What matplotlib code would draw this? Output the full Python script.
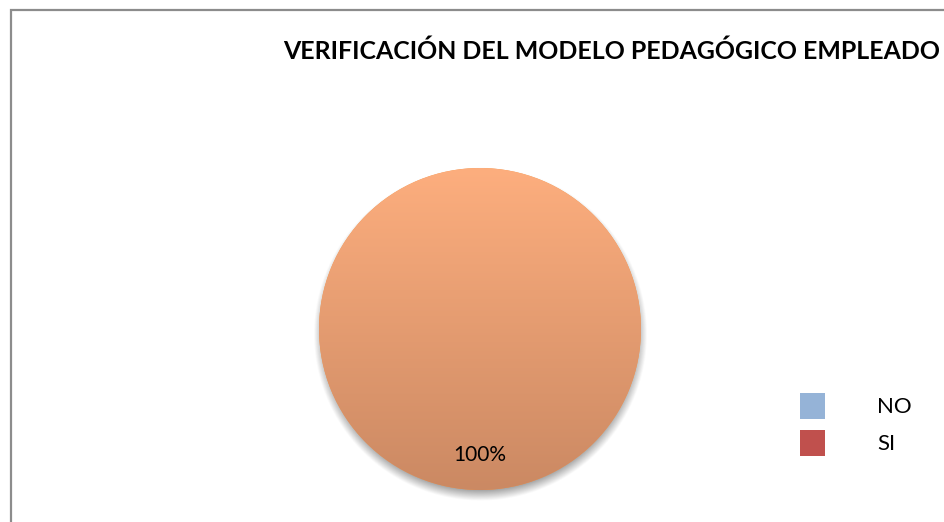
import numpy as np
import matplotlib
matplotlib.use("Agg")
import matplotlib.pyplot as plt
from matplotlib.patches import Patch, Rectangle
from matplotlib.colors import LinearSegmentedColormap

categories = ["NO", "SI"]
values = [0, 100]
legend_colors = ["#95B3D7", "#C0504D"]
title = "VERIFICACIÓN DEL MODELO PEDAGÓGICO EMPLEADO"

plt.rcParams['font.family'] = ['Lato', 'DejaVu Sans']

W, H = 944, 522
fig = plt.figure(figsize=(W / 100, H / 100), dpi=100)
fig.patch.set_facecolor("white")

# border
fig.add_artist(Rectangle((10.5 / W, -0.05), 1.2, (H - 9.5) / H + 0.05,
                         transform=fig.transFigure, fill=False,
                         edgecolor="#8c8c8c", lw=1.6))

# pie axes
cx, cy, r = 480, 329, 161
ax = fig.add_axes([(cx - r * 1.15) / W, (H - cy - r * 1.15) / H,
                   2 * r * 1.15 / W, 2 * r * 1.15 / H])
ax.set_xlim(-1.15, 1.15)
ax.set_ylim(-1.15, 1.15)
ax.set_aspect("equal")
ax.axis("off")

# shadow
n = 500
xs = np.linspace(-1.15, 1.15, n)
X, Y = np.meshgrid(xs, xs)
d = np.sqrt(X ** 2 + (Y + 0.035) ** 2)
blur = 0.07
alpha = np.clip((1.0 + blur / 2 - d) / blur, 0, 1) * 0.6
shadow = np.zeros((n, n, 4))
shadow[..., :3] = 0.38
shadow[..., 3] = alpha
ax.imshow(shadow, extent=(-1.15, 1.15, -1.15, 1.15), origin="lower", zorder=0,
          interpolation="bilinear")

wedges, texts, autotexts = ax.pie(values, radius=1, colors=["#F79646", "#F79646"],
                                  autopct=lambda p: f"{p:.0f}%" if p > 0 else "",
                                  pctdistance=0.78, startangle=90, counterclock=False,
                                  wedgeprops=dict(linewidth=0),
                                  textprops=dict(fontsize=15, color="black"))
cmap = LinearSegmentedColormap.from_list("g", ["#CB8963", "#FDAE7E"])
grad = np.linspace(0, 1, 256).reshape(-1, 1)
for w, v in zip(wedges, values):
    if v > 0:
        im = ax.imshow(grad, extent=(-1, 1, -1, 1), origin="lower", cmap=cmap,
                       aspect="auto", zorder=1)
        im.set_clip_path(w)
        w.set_zorder(1)
for t in autotexts:
    t.set_zorder(3)
for t in texts:
    t.set_visible(False)
for t, v in zip(autotexts, values):
    if v > 0:
        t.set_position((0, -0.78))
ax.set_xlim(-1.15, 1.15)
ax.set_ylim(-1.15, 1.15)

fig.text(283 / W, 1 - 51 / H, title, fontsize=17.9, fontweight="bold",
         ha="left", va="center")

handles = [Patch(facecolor=c, edgecolor="none") for c in legend_colors]
leg = fig.legend(handles, categories, loc="upper left",
                 bbox_to_anchor=(784 / W, 1 - 377 / H), frameon=False,
                 fontsize=16, handlelength=1.15, handleheight=1.42,
                 handletextpad=2.35, labelspacing=0.5, borderpad=0.2)

fig.savefig("out.png", dpi=100, facecolor="white")
